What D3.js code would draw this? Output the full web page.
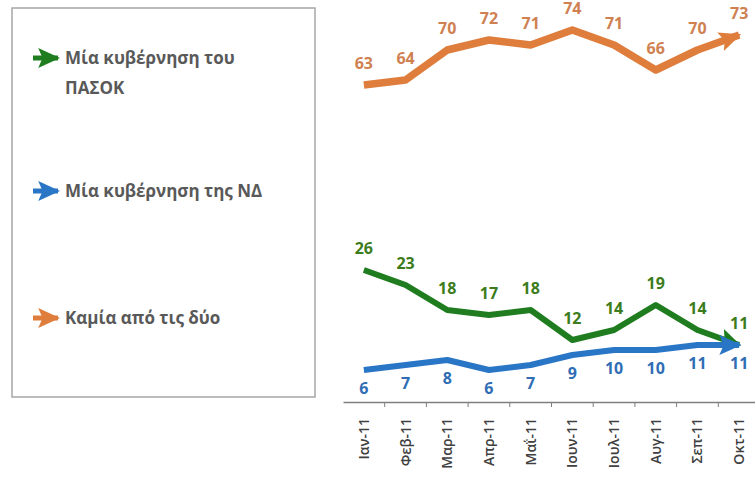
<!DOCTYPE html>
<html>
<head>
<meta charset="utf-8">
<script src="https://cdn.jsdelivr.net/npm/d3@7"></script>
<style>
  body { margin: 0; background: #fff; }
  text { font-family: "Open Sans", sans-serif; }
</style>
</head>
<body>
<div id="chart"></div>
<script>
// months on the x axis
var months = ["Ιαν-11", "Φεβ-11", "Μαρ-11", "Απρ-11", "Μαΐ-11", "Ιουν-11", "Ιουλ-11", "Αυγ-11", "Σεπ-11", "Οκτ-11"];

// series values (%)
var pasok = [26, 23, 18, 17, 18, 12, 14, 19, 14, 11];
var nd = [6, 7, 8, 6, 7, 9, 10, 10, 11, 11];
var neither = [63, 64, 70, 72, 71, 74, 71, 66, 70, 73];

var legendNames = [["Μία κυβέρνηση του", "ΠΑΣΟΚ"], ["Μία κυβέρνηση της ΝΔ"], ["Καμία από τις δύο"]];

var w = 755, h = 479;

var svg = d3.select("#chart")
  .append("svg")
  .attr("width", w)
  .attr("height", h);

var x = d3.scaleBand().domain(months).range([343, 760]);
var y = d3.scaleLinear().domain([0, 80]).range([400, 0]);

var series = [
  {key: "pasok", values: pasok, line: "#1f7d1f", label: "#3c7c1c", below: false, width: 6},
  {key: "nd", values: nd, line: "#2a76c6", label: "#2f6db5", below: true, width: 6},
  {key: "neither", values: neither, line: "#df7e3c", label: "#cf8152", below: false, width: 7.5}
];

// arrow heads
var defs = svg.append("defs");
series.forEach(function(s) {
  defs.append("marker")
    .attr("id", "arrow-" + s.key)
    .attr("markerUnits", "userSpaceOnUse")
    .attr("viewBox", "0 0 20 20")
    .attr("refX", 18)
    .attr("refY", 10)
    .attr("markerWidth", 22)
    .attr("markerHeight", 22)
    .attr("orient", "auto")
    .append("path")
    .attr("d", "M0,1 L20,10 L0,19 L4,10 Z")
    .attr("fill", s.line);
});

// legend box
svg.append("rect")
  .attr("x", 12).attr("y", 8)
  .attr("width", 303).attr("height", 389)
  .attr("fill", "#fff")
  .attr("stroke", "#a6a6a6")
  .attr("stroke-width", 1.5);

var legendY = [58, 191, 318];
series.forEach(function(s, i) {
  var ly = legendY[i];
  svg.append("line")
    .attr("x1", 33).attr("x2", 58)
    .attr("y1", ly).attr("y2", ly)
    .attr("stroke", s.line)
    .attr("stroke-width", 5)
    .attr("marker-end", "url(#arrow-" + s.key + ")");
  var t = svg.append("text")
    .attr("x", 65)
    .attr("y", ly + 6)
    .attr("font-size", "17px")
    .attr("font-weight", 700)
    .attr("fill", "#595959");
  legendNames[i].forEach(function(part, j) {
    t.append("tspan")
      .attr("x", 65)
      .attr("dy", j === 0 ? 0 : 30)
      .text(part);
  });
});

// x axis
var xAxis = d3.axisBottom(x)
  .tickValues([])
  .tickSizeOuter(0);

var gx = svg.append("g")
  .attr("transform", "translate(0,402)")
  .call(xAxis);
gx.select(".domain").attr("stroke", "#7f7f7f").attr("stroke-width", 1.5);

// tick marks between categories
gx.selectAll("line.sep")
  .data(months.slice(1))
  .enter()
  .append("line")
  .attr("class", "sep")
  .attr("x1", function(d) { return x(d); })
  .attr("x2", function(d) { return x(d); })
  .attr("y1", 0).attr("y2", 5)
  .attr("stroke", "#7f7f7f");

gx.selectAll("text.month")
  .data(months)
  .enter()
  .append("text")
  .attr("class", "month")
  .attr("transform", function(d) {
    return "translate(" + (x(d) + x.bandwidth() / 2 + 5) + ",16) rotate(-90)";
  })
  .attr("text-anchor", "end")
  .attr("font-size", "14px")
  .attr("font-weight", 600)
  .attr("fill", "#404040")
  .text(function(d) { return d; });

// lines
var line = d3.line()
  .x(function(d, i) { return x(months[i]) + x.bandwidth() / 2; })
  .y(function(d) { return y(d); });

series.forEach(function(s) {
  svg.append("path")
    .datum(s.values)
    .attr("d", line)
    .attr("fill", "none")
    .attr("stroke", s.line)
    .attr("stroke-width", s.width)
    .attr("stroke-linejoin", "round")
    .attr("marker-end", "url(#arrow-" + s.key + ")");
});

// value labels
series.forEach(function(s) {
  svg.selectAll("text.lbl-" + s.key)
    .data(s.values)
    .enter()
    .append("text")
    .attr("class", "lbl-" + s.key)
    .attr("x", function(d, i) { return x(months[i]) + x.bandwidth() / 2; })
    .attr("y", function(d) { return s.below ? y(d) + 24 : y(d) - 16; })
    .attr("text-anchor", "middle")
    .attr("font-size", "16px")
    .attr("font-weight", 700)
    .attr("fill", s.label)
    .text(function(d) { return d; });
});
</script>
</body>
</html>
